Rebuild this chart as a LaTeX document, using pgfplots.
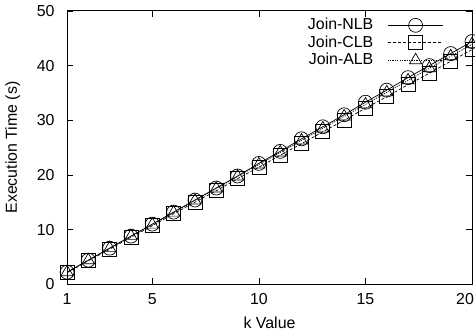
\documentclass[border=0pt]{standalone}
\usepackage{pgfplots}
\pgfplotsset{compat=1.18}
\usepackage{fontspec}
\setmainfont{Liberation Sans}
\begin{document}
\fontsize{16}{18}\selectfont
\begin{tikzpicture}[trim right={([xshift=3bp]current axis.south east)}]
\begin{axis}[
  scale only axis,
  width=406bp, height=274bp,
  xmin=1, xmax=20, ymin=0, ymax=50,
  xtick={1,5,10,15,20},
  xticklabels={1,5,10,15,\hspace*{-14bp}20},
  ytick={0,10,20,30,40,50},
  tick align=inside,
  major tick length=6bp,
  tick style={black, line width=0.6pt},
  axis line style={line width=0.9pt},
  /pgf/number format/assume math mode=true,
  xticklabel style={yshift=-4bp},
  yticklabel style={xshift=-7bp},
  xlabel={k Value}, ylabel={Execution Time (s)},
  xlabel style={yshift=-1bp},
  ylabel style={yshift=6bp},
  legend plot pos=right,
  legend cell align=right,
  legend style={draw=none, fill=none, at={(0.931,0.979)}, anchor=north east,
    row sep=2.5bp, inner sep=1bp, font=\fontsize{16}{18}\selectfont,
    nodes={inner sep=0pt, text height=12bp, text depth=3bp},
    /tikz/every odd column/.append style={column sep=14bp}},
  legend image code/.code={
    \draw[#1, mark=none] (0bp,0bp) -- (55bp,0bp);
    \draw[#1, solid] plot coordinates {(28bp,0bp)};
  },
  every axis plot/.append style={black, line width=0.7pt, mark size=7bp,
     mark options={solid, fill=none, line width=0.7pt}},
]
\addplot[solid, mark=o] coordinates {
(1,2.2) (2,4.4) (3,6.6) (4,8.8) (5,11.0) (6,13.2) (7,15.4) (8,17.6) (9,19.8) (10,22.1)
(11,24.3) (12,26.6) (13,28.8) (14,31.0) (15,33.3) (16,35.5) (17,37.8) (18,40.0) (19,42.2) (20,44.4)};
\addlegendentry{Join-NLB}
\addplot[dashed, dash pattern=on 3bp off 2bp, mark=square] coordinates {
(1,2.1) (2,4.3) (3,6.4) (4,8.6) (5,10.7) (6,12.9) (7,15.0) (8,17.1) (9,19.3) (10,21.4)
(11,23.6) (12,25.7) (13,27.9) (14,30.0) (15,32.2) (16,34.3) (17,36.5) (18,38.6) (19,40.8) (20,42.9)};
\addlegendentry{Join-CLB}
\addplot[dotted, dash pattern=on 1.2bp off 1.2bp, mark=triangle] coordinates {
(1,2.2) (2,4.4) (3,6.6) (4,8.8) (5,10.9) (6,13.1) (7,15.3) (8,17.5) (9,19.7) (10,21.9)
(11,24.1) (12,26.3) (13,28.5) (14,30.7) (15,32.9) (16,35.1) (17,37.3) (18,39.5) (19,41.7) (20,43.9)};
\addlegendentry{Join-ALB}
\end{axis}
\end{tikzpicture}
\end{document}
